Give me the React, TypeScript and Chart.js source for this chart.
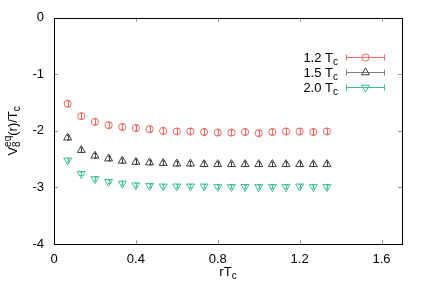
import React, { useEffect, useRef } from "react";
import { Chart, registerables } from "chart.js";

Chart.register(...registerables);

const xValues = [0.0667, 0.1333, 0.2, 0.2667, 0.3333, 0.4, 0.4667, 0.5333, 0.6, 0.6667, 0.7333, 0.8, 0.8667, 0.9333, 1.0, 1.0667, 1.1333, 1.2, 1.2667, 1.3333];
const series12 = [-1.52, -1.74, -1.84, -1.90, -1.93, -1.95, -1.97, -2.00, -2.01, -2.01, -2.02, -2.03, -2.03, -2.02, -2.04, -2.02, -2.01, -2.01, -2.02, -2.01];
const series15 = [-2.12, -2.34, -2.44, -2.49, -2.53, -2.55, -2.56, -2.57, -2.58, -2.58, -2.59, -2.59, -2.59, -2.59, -2.59, -2.59, -2.59, -2.59, -2.59, -2.59];
const series20 = [-2.52, -2.76, -2.85, -2.90, -2.93, -2.96, -2.97, -2.98, -2.98, -2.98, -2.98, -2.99, -2.99, -2.99, -2.99, -2.99, -2.99, -2.98, -2.99, -2.99];
const err12 = [0.05, 0.05, 0.05, 0.05, 0.05, 0.05, 0.05, 0.05, 0.05, 0.05, 0.05, 0.05, 0.05, 0.05, 0.05, 0.05, 0.05, 0.05, 0.05, 0.05];
const err15 = [0.04, 0.04, 0.04, 0.04, 0.04, 0.04, 0.04, 0.04, 0.04, 0.04, 0.04, 0.04, 0.04, 0.04, 0.04, 0.04, 0.04, 0.04, 0.04, 0.04];
const err20 = [0.03, 0.03, 0.03, 0.03, 0.03, 0.03, 0.03, 0.03, 0.03, 0.03, 0.03, 0.03, 0.03, 0.03, 0.03, 0.03, 0.03, 0.03, 0.03, 0.03];
const seriesLabels = ["1.2", "1.5", "2.0"];
const xTicks = [0, 0.4, 0.8, 1.2, 1.6];
const yTicks = [0, -1, -2, -3, -4];

const FONT = "'Liberation Sans', Arial, sans-serif";
const FS = 13;
const SFS = 10;
const colors = ["#f06a5e", "#404040", "#3cbf9a"];
const legendLineColors = ["#f06a5e", "#808080", "#3cbf9a"];
const styles = ["circle", "triangle", "triangleDown"];

function drawMarker(ctx: CanvasRenderingContext2D, style: string, x: number, y: number) {
  ctx.beginPath();
  if (style === "circle") {
    ctx.arc(x, y, 3.6, 0, Math.PI * 2);
  } else {
    const r = 4.6;
    const s = style === "triangle" ? 1 : -1;
    ctx.moveTo(x, y - s * r);
    ctx.lineTo(x + r * Math.sin(Math.PI / 3), y + s * r * 0.5);
    ctx.lineTo(x - r * Math.sin(Math.PI / 3), y + s * r * 0.5);
    ctx.closePath();
  }
  ctx.stroke();
}

const customPlugin = {
  id: "custom",
  afterDatasetsDraw(chart: any) {
    const ctx = chart.ctx as CanvasRenderingContext2D;
    const xs = chart.scales.x;
    const ys = chart.scales.y;
    const all = [
      { v: series12, e: err12 },
      { v: series15, e: err15 },
      { v: series20, e: err20 },
    ];
    ctx.save();
    all.forEach((s, i) => {
      ctx.strokeStyle = colors[i];
      ctx.lineWidth = 1;
      xValues.forEach((xv, j) => {
        const px = Math.round(xs.getPixelForValue(xv)) + 0.5;
        const y1 = ys.getPixelForValue(s.v[j] - s.e[j]);
        const y2 = ys.getPixelForValue(s.v[j] + s.e[j]);
        ctx.beginPath();
        ctx.moveTo(px, y1);
        ctx.lineTo(px, y2);
        ctx.moveTo(px - 1.5, y1);
        ctx.lineTo(px + 1.5, y1);
        ctx.moveTo(px - 1.5, y2);
        ctx.lineTo(px + 1.5, y2);
        ctx.stroke();
      });
    });
    ctx.restore();
  },
  afterDraw(chart: any) {
    const ctx = chart.ctx as CanvasRenderingContext2D;
    const { left, right, top, bottom } = chart.chartArea;
    const xs = chart.scales.x;
    const ys = chart.scales.y;
    ctx.save();
    // inward ticks
    ctx.strokeStyle = "#999999";
    ctx.lineWidth = 1;
    ctx.beginPath();
    xTicks.forEach((t) => {
      const px = Math.round(xs.getPixelForValue(t)) + 0.5;
      ctx.moveTo(px, bottom);
      ctx.lineTo(px, bottom - 4);
      ctx.moveTo(px, top);
      ctx.lineTo(px, top + 4);
    });
    yTicks.forEach((t) => {
      const py = Math.round(ys.getPixelForValue(t)) + 0.5;
      ctx.moveTo(left, py);
      ctx.lineTo(left + 4, py);
      ctx.moveTo(right, py);
      ctx.lineTo(right - 4, py);
    });
    ctx.stroke();
    // frame
    ctx.strokeStyle = "#000000";
    ctx.lineWidth = 1;
    ctx.strokeRect(Math.round(left) + 0.5, Math.round(top) + 0.5, Math.round(right - left), Math.round(bottom - top));

    ctx.fillStyle = "#000000";
    // x title: rT_c
    ctx.font = `${FS}px ${FONT}`;
    ctx.textBaseline = "alphabetic";
    ctx.textAlign = "left";
    const mainX = "rT";
    const wMain = ctx.measureText(mainX).width;
    ctx.font = `${SFS}px ${FONT}`;
    const wSub = ctx.measureText("c").width;
    const cx = (left + right) / 2;
    const startX = cx - (wMain + wSub) / 2;
    ctx.font = `${FS}px ${FONT}`;
    ctx.fillText(mainX, startX, 276);
    ctx.font = `${SFS}px ${FONT}`;
    ctx.fillText("c", startX + wMain, 279);

    // y title: V_8^{eq}(r)/T_c
    ctx.save();
    ctx.translate(17, (top + bottom) / 2);
    ctx.rotate(-Math.PI / 2);
    const parts = [
      { t: "V", f: FS },
      { t: "8", f: SFS },
      { t: "eq", f: SFS },
      { t: "(r)/T", f: FS },
      { t: "c", f: SFS },
    ];
    const widths: number[] = [];
    parts.forEach((p) => {
      ctx.font = `${p.f}px ${FONT}`;
      widths.push(ctx.measureText(p.t).width);
    });
    const total = widths[0] + Math.max(widths[1], widths[2]) + widths[3] + widths[4];
    let pos = -total / 2;
    ctx.font = `${FS}px ${FONT}`;
    ctx.fillText("V", pos, 0);
    pos += widths[0];
    ctx.font = `${SFS}px ${FONT}`;
    ctx.fillText("8", pos, 3);
    ctx.fillText("eq", pos, -6);
    pos += Math.max(widths[1], widths[2]);
    ctx.font = `${FS}px ${FONT}`;
    ctx.fillText("(r)/T", pos, 0);
    pos += widths[3];
    ctx.font = `${SFS}px ${FONT}`;
    ctx.fillText("c", pos, 3);
    ctx.restore();

    // legend
    seriesLabels.forEach((lab, i) => {
      const y = 57 + 15 * i;
      ctx.font = `${SFS}px ${FONT}`;
      const sw = ctx.measureText("c").width;
      const textRight = 338;
      ctx.fillStyle = "#000000";
      ctx.textAlign = "left";
      ctx.fillText("c", textRight - sw, y + 7.5);
      ctx.font = `${FS}px ${FONT}`;
      ctx.textAlign = "right";
      ctx.fillText(lab + " T", textRight - sw, y + 4.5);
      ctx.strokeStyle = legendLineColors[i];
      ctx.lineWidth = 1;
      const yy = Math.round(y) + 0.5;
      ctx.beginPath();
      ctx.moveTo(346, yy);
      ctx.lineTo(385, yy);
      ctx.moveTo(346.5, yy - 3);
      ctx.lineTo(346.5, yy + 3);
      ctx.moveTo(384.5, yy - 3);
      ctx.lineTo(384.5, yy + 3);
      ctx.stroke();
      ctx.strokeStyle = colors[i];
      drawMarker(ctx, styles[i], 365.5, yy);
    });
    ctx.restore();
  },
};

export default function App() {
  const ref = useRef<HTMLCanvasElement | null>(null);
  useEffect(() => {
    document.body.style.margin = "0";
    if (!ref.current) return;
    const mk = (vals: number[], i: number) => ({
      label: seriesLabels[i],
      data: xValues.map((x, j) => ({ x, y: vals[j] })),
      showLine: false,
      borderColor: colors[i],
      backgroundColor: "rgba(0,0,0,0)",
      borderWidth: 1,
      pointStyle: i === 0 ? "circle" : "triangle",
      pointRadius: i === 0 ? 3.6 : 4.6,
      pointRotation: i === 2 ? 180 : 0,
    });
    const ds = [mk(series12, 0), mk(series15, 1), mk(series20, 2)];
    const chart = new Chart(ref.current, {
      type: "scatter",
      data: { datasets: ds as any },
      plugins: [customPlugin],
      options: {
        responsive: false,
        animation: false,
        devicePixelRatio: 1,
        layout: { padding: { top: 16, right: 34, left: 0, bottom: 0 } },
        plugins: { legend: { display: false }, tooltip: { enabled: false } },
        scales: {
          x: {
            type: "linear",
            min: 0,
            max: 1.7,
            afterBuildTicks: (axis: any) => {
              axis.ticks = xTicks.map((v) => ({ value: v }));
            },
            afterFit: (axis: any) => {
              axis.height = 61;
            },
            grid: { display: false, drawTicks: false },
            border: { display: false },
            ticks: {
              padding: 8,
              color: "#000000",
              font: { family: FONT, size: FS },
              maxRotation: 0,
              callback: (v: any) => String(Number(v)),
            },
          },
          y: {
            type: "linear",
            min: -4,
            max: 0,
            afterBuildTicks: (axis: any) => {
              axis.ticks = yTicks.map((v) => ({ value: v }));
            },
            afterFit: (axis: any) => {
              axis.width = 54;
            },
            grid: { display: false, drawTicks: false },
            border: { display: false },
            ticks: {
              padding: 10,
              color: "#000000",
              font: { family: FONT, size: FS },
              callback: (v: any) => String(Number(v)),
            },
          },
        },
      } as any,
    });
    return () => chart.destroy();
  }, []);
  return (
    <div style={{ width: 436, height: 305 }}>
      <canvas ref={ref} width={436} height={305} style={{ display: "block" }} />
    </div>
  );
}
